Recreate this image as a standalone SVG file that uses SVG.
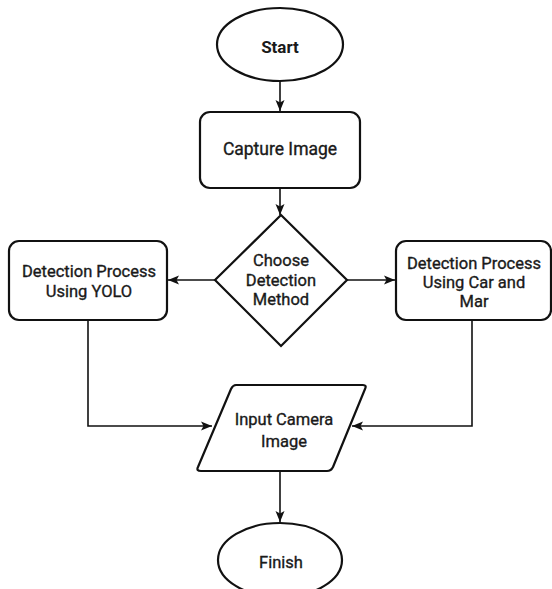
<svg xmlns="http://www.w3.org/2000/svg" width="552" height="589" viewBox="0 0 552 589">
<style>
.s{fill:#fff;stroke:#111;stroke-width:2.2}
.t{font-family:Roboto,"Liberation Sans",sans-serif;font-size:16.5px;font-weight:400;fill:#1a1a1a;stroke:#1a1a1a;stroke-width:0.35;text-anchor:middle}
.c{fill:none;stroke:#111;stroke-width:1.6}
</style>
<defs>
<marker id="a" markerWidth="11" markerHeight="11" viewBox="0 0 11 11" refX="11" refY="5.5" orient="auto" markerUnits="userSpaceOnUse">
<path d="M0,1 L11,5.5 L0,10 L2.5,5.5 z" fill="#111"/>
</marker>
</defs>
<rect width="552" height="589" fill="#fff"/>
<g id="connectors">
<line class="c" x1="280" y1="81" x2="280" y2="111" marker-end="url(#a)"/>
<line class="c" x1="280" y1="188" x2="280" y2="215" marker-end="url(#a)"/>
<line class="c" x1="215" y1="280" x2="168" y2="280" marker-end="url(#a)"/>
<line class="c" x1="347" y1="280" x2="395" y2="280" marker-end="url(#a)"/>
<polyline class="c" points="88,320 88,426 212,426" marker-end="url(#a)"/>
<polyline class="c" points="472,320 472,426 352,426" marker-end="url(#a)"/>
<line class="c" x1="280" y1="471" x2="280" y2="522" marker-end="url(#a)"/>
</g>
<g id="start">
<ellipse class="s" cx="280" cy="44.5" rx="63" ry="36.5"/>
<text class="t" x="280" y="52.5" style="font-size:17px;font-weight:700;stroke-width:0">Start</text>
</g>
<g id="capture">
<rect class="s" x="200" y="112" width="160" height="76" rx="10"/>
<text class="t" x="280" y="155" style="font-size:17.5px">Capture Image</text>
</g>
<g id="choose">
<polygon class="s" points="281,215 347,280 281,346 215,280"/>
<text class="t" x="281" y="266">Choose</text>
<text class="t" x="281" y="285.5">Detection</text>
<text class="t" x="281" y="305">Method</text>
</g>
<g id="yolo">
<rect class="s" x="9" y="241" width="158" height="79" rx="10"/>
<text class="t" x="89" y="277">Detection Process</text>
<text class="t" x="89" y="297">Using YOLO</text>
</g>
<g id="carmar">
<rect class="s" x="396" y="241" width="155" height="79" rx="10"/>
<text class="t" x="474" y="269">Detection Process</text>
<text class="t" x="474" y="288">Using Car and</text>
<text class="t" x="474" y="307">Mar</text>
</g>
<g id="input">
<path class="s" d="M236,385 L363,385 Q367,385 365,389 L333,467 Q331,471 327,471 L201,471 Q196,471 198,467 L231,389 Q233,385 236,385 Z"/>
<text class="t" x="284" y="425">Input Camera</text>
<text class="t" x="284" y="447">Image</text>
</g>
<g id="finish">
<ellipse class="s" cx="280" cy="560" rx="62" ry="37"/>
<text class="t" x="281" y="568">Finish</text>
</g>
</svg>
